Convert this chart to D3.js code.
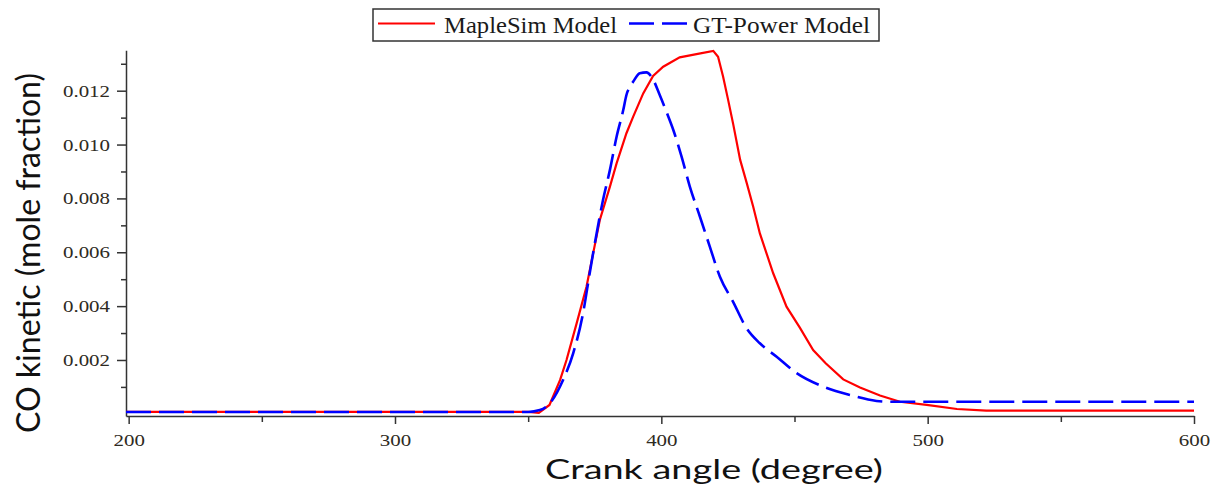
<!DOCTYPE html>
<html lang="en">
<head>
  <meta charset="UTF-8">
  <title>CO kinetic vs crank angle</title>
  <script src="https://d3js.org/d3.v7.min.js"></script>
  <style>
    body { margin: 0; background: #fff; }
    svg { display: block; }
  </style>
</head>
<body>
  <div id="chart"></div>

  <script>
    // MapleSim model (red, solid)
    const mapleAngle = [199, 340, 350, 354, 358, 362, 364.4, 368.2, 371.9, 374.4, 376.9, 380.7, 383.2, 386.9,
      389.4, 393.2, 396.9, 400.7, 406.9, 413.2, 419.5, 421.3, 423.2, 425.1, 427, 429.6, 432.1, 434.5, 437,
      439.5, 442, 447, 452, 457, 461.7, 468.3, 474.6, 482.1, 489.6, 499.6, 511, 522, 600];
    const mapleCO = [0.00007, 0.00007, 0.00007, 0.00004, 0.00033, 0.00126, 0.0020, 0.00336, 0.00472, 0.00596,
      0.0072, 0.00844, 0.0093, 0.01042, 0.01103, 0.0119, 0.01255, 0.01289, 0.01324, 0.01336, 0.01348, 0.01326,
      0.01252, 0.01165, 0.01075, 0.00943, 0.00856, 0.00769, 0.0067, 0.00596, 0.00522, 0.00398, 0.0032, 0.00237,
      0.00188, 0.00128, 0.00098, 0.00068, 0.00045, 0.00033, 0.00018, 0.00012, 0.00012];

    // GT-Power model (blue, dashed)
    const gtAngle = [199, 350, 354.4, 358.1, 363.1, 366.9, 370.6, 373.1, 375.7, 378.1, 380.7, 383.2, 385.7,
      386.9, 388.2, 389.4, 391.9, 394.4, 396.3, 399.4, 401.9, 404.5, 407.6, 410.7, 414.5, 418.2, 422, 427, 432,
      437, 443.3, 450.8, 460.8, 470.8, 480.8, 486, 600];
    const gtCO = [0.00007, 0.00007, 0.00014, 0.00039, 0.00126, 0.00225, 0.00373, 0.00522, 0.0067, 0.00794,
      0.00906, 0.01029, 0.01128, 0.01184, 0.01215, 0.01233, 0.01265, 0.01268, 0.01252, 0.01184, 0.01122, 0.01054,
      0.00955, 0.00844, 0.00732, 0.00621, 0.00509, 0.00415, 0.00318, 0.00262, 0.00212, 0.00151, 0.00101, 0.0007,
      0.00048, 0.00045, 0.00045];

    const xMajor = [200, 300, 400, 500, 600];
    const xMinor = [250, 350, 450, 550];
    const yMajor = [0.002, 0.004, 0.006, 0.008, 0.010, 0.012];
    const yMinor = [0.001, 0.003, 0.005, 0.007, 0.009, 0.011, 0.013];

    const seriesNames = ["MapleSim Model", "GT-Power Model"];

    const width = 1222, height = 492;
    const serif = "'Liberation Serif', 'Times New Roman', serif";
    const sans = "Lato, 'Open Sans', sans-serif";
    const stretch = 1.23; // the reference text is a bit wide

    const svg = d3.select("#chart").append("svg")
      .attr("width", width)
      .attr("height", height);

    const x = d3.scaleLinear().domain([199, 600]).range([126, 1194]);
    const y = d3.scaleLinear().domain([-0.00008, 0.0135]).range([416, 50.3]);

    function widen(sel) {
      sel.each(function () {
        const w = this.getComputedTextLength();
        d3.select(this).attr("textLength", w * stretch).attr("lengthAdjust", "spacingAndGlyphs");
      });
    }

    // minor ticks first, then major axes on top
    svg.append("g")
      .attr("transform", `translate(0,${y.range()[0]})`)
      .call(d3.axisBottom(x).tickValues(xMinor).tickSize(6).tickSizeOuter(0).tickFormat(""))
      .call(g => g.select(".domain").remove())
      .call(g => g.selectAll("line").attr("stroke", "#333").attr("stroke-width", 1.5));

    svg.append("g")
      .attr("transform", `translate(${x.range()[0]},0)`)
      .call(d3.axisLeft(y).tickValues(yMinor).tickSize(5).tickSizeOuter(0).tickFormat(""))
      .call(g => g.select(".domain").remove())
      .call(g => g.selectAll("line").attr("stroke", "#333").attr("stroke-width", 1.5));

    const xAxis = svg.append("g")
      .attr("transform", `translate(0,${y.range()[0]})`)
      .call(d3.axisBottom(x).tickValues(xMajor).tickSize(8).tickSizeOuter(0).tickPadding(10).tickFormat(d3.format("d")));

    const yAxis = svg.append("g")
      .attr("transform", `translate(${x.range()[0]},0)`)
      .call(d3.axisLeft(y).tickValues(yMajor).tickSize(9).tickSizeOuter(0).tickPadding(7).tickFormat(d3.format(".3f")));

    [xAxis, yAxis].forEach(ax => {
      ax.select(".domain").attr("stroke", "#333").attr("stroke-width", 1.5);
      ax.selectAll(".tick line").attr("stroke", "#333").attr("stroke-width", 1.5);
      ax.selectAll(".tick text")
        .attr("fill", "#2e2a22")
        .style("font-family", serif)
        .style("font-size", "17px")
        .call(widen);
    });

    // curves
    const mapleData = mapleAngle.map((a, i) => [a, mapleCO[i]]);
    const gtData = gtAngle.map((a, i) => [a, gtCO[i]]);

    const line = d3.line().x(d => x(d[0])).y(d => y(d[1]));

    svg.append("path")
      .datum(mapleData)
      .attr("fill", "none")
      .attr("stroke", "#ff0000")
      .attr("stroke-width", 2.2)
      .attr("d", line);

    svg.append("path")
      .datum(gtData)
      .attr("fill", "none")
      .attr("stroke", "#0000ff")
      .attr("stroke-width", 2.6)
      .attr("stroke-dasharray", "25,8")
      .attr("d", line.curve(d3.curveMonotoneX));

    // axis titles
    svg.append("text")
      .attr("x", 714)
      .attr("y", 479)
      .attr("text-anchor", "middle")
      .attr("textLength", 338)
      .attr("lengthAdjust", "spacingAndGlyphs")
      .style("font-family", sans)
      .style("font-size", "26px")
      .attr("fill", "#111")
      .text("Crank angle (degree)");

    svg.append("text")
      .attr("transform", "translate(40,253) rotate(-90)")
      .attr("text-anchor", "middle")
      .attr("textLength", 360)
      .attr("lengthAdjust", "spacingAndGlyphs")
      .style("font-family", sans)
      .style("font-size", "32px")
      .attr("fill", "#111")
      .text("CO kinetic (mole fraction)");

    // legend
    const legend = svg.append("g");
    legend.append("rect")
      .attr("x", 373).attr("y", 9)
      .attr("width", 506).attr("height", 32)
      .attr("fill", "#fff")
      .attr("stroke", "#333")
      .attr("stroke-width", 1.5);

    legend.append("line")
      .attr("x1", 378).attr("x2", 435).attr("y1", 23.5).attr("y2", 23.5)
      .attr("stroke", "#ff0000").attr("stroke-width", 2.2);
    legend.append("line")
      .attr("x1", 629).attr("x2", 687).attr("y1", 23.5).attr("y2", 23.5)
      .attr("stroke", "#0000ff").attr("stroke-width", 2.6)
      .attr("stroke-dasharray", "25,8");

    const legendText = [[444, 173], [693, 177]];
    legend.selectAll("text.lbl")
      .data(seriesNames)
      .enter()
      .append("text")
      .attr("class", "lbl")
      .attr("x", (d, i) => legendText[i][0])
      .attr("y", 33)
      .attr("textLength", (d, i) => legendText[i][1])
      .attr("lengthAdjust", "spacingAndGlyphs")
      .style("font-family", serif)
      .style("font-size", "24px")
      .attr("fill", "#1a1a1a")
      .text(d => d);
  </script>
</body>
</html>
